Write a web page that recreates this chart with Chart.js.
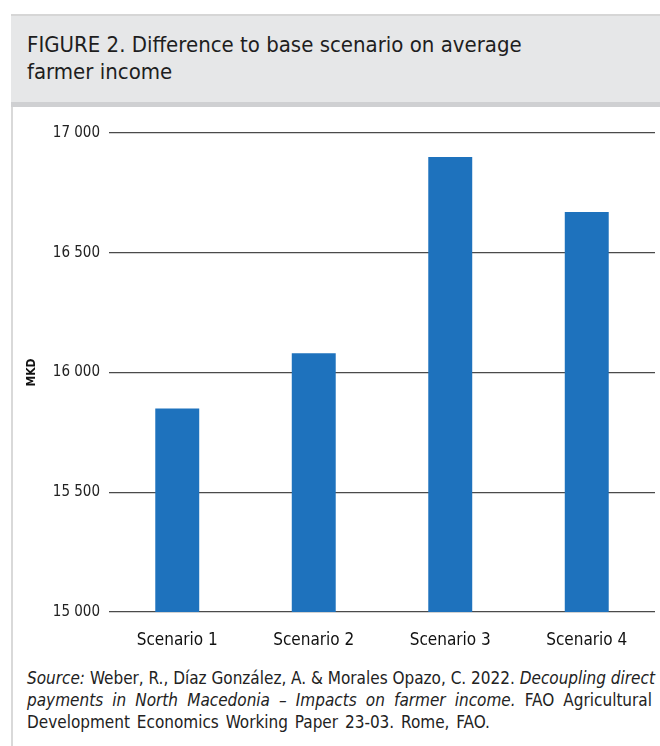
<!DOCTYPE html>
<html>
<head>
<meta charset="utf-8">
<script src="https://cdn.jsdelivr.net/npm/chart.js@4"></script>
<style>
  html, body { margin: 0; padding: 0; background: #fff; }
  body { width: 660px; height: 746px; position: relative; overflow: hidden; }
  .leftline { position: absolute; left: 11px; top: 14px; width: 2px; height: 732px; background: #d9d9d9; }
  .titlebox {
    position: absolute; left: 11px; top: 14px; width: 660px; height: 86px;
    background: #e6e7e8; border-top: 2px solid #d6d6d6; border-bottom: 5px solid #cfd0d2;
  }
  .title {
    position: absolute; left: 27px; top: 31px; margin: 0;
    font-family: "Liberation Sans Narrow", "DejaVu Sans Condensed", sans-serif;
    font-size: 22px; line-height: 27px; color: #1e1e1e; font-weight: normal;
  }
  .chartwrap { position: absolute; left: 14px; top: 106px; width: 646px; height: 545px; }
  .source {
    position: absolute; left: 27px; top: 667px; width: 625px;
    font-family: "Liberation Sans Narrow", "DejaVu Sans Condensed", sans-serif;
    font-size: 17px; line-height: 22px; color: #222;
  }
  .source div { text-align: justify; text-align-last: justify; white-space: nowrap; }
  .source div.last { text-align-last: left; word-spacing: 2px; }
</style>
</head>
<body>
<div class="leftline"></div>
<div class="titlebox"></div>
<h1 class="title">FIGURE 2. Difference to base scenario on average<br>farmer income</h1>
<div class="chartwrap"><canvas id="incomeChart" width="646" height="545"></canvas></div>
<div class="source">
  <div><i>Source:</i> Weber, R., Díaz González, A. &amp; Morales Opazo, C. 2022. <i>Decoupling direct</i></div>
  <div><i>payments in North Macedonia – Impacts on farmer income.</i> FAO Agricultural</div>
  <div class="last">Development Economics Working Paper 23-03. Rome, FAO.</div>
</div>
<script>
document.addEventListener("DOMContentLoaded", () => {
  const ctx = document.getElementById("incomeChart").getContext("2d");

  const scenarios = ["Scenario 1", "Scenario 2", "Scenario 3", "Scenario 4"];
  const farmerIncome = [15850, 16080, 16900, 16670]; // MKD
  const yTicks = [15000, 15500, 16000, 16500, 17000];

  const fontFamily = '"Liberation Sans Narrow", "DejaVu Sans Condensed", sans-serif';

  new Chart(ctx, {
    type: "bar",
    data: {
      labels: scenarios,
      datasets: [
        {
          label: "Average farmer income",
          data: farmerIncome,
          backgroundColor: "#1e72bd",
          borderWidth: 0,
          categoryPercentage: 1,
          barPercentage: 0.322,
        },
      ],
    },
    options: {
      responsive: false,
      animation: false,
      layout: { padding: { top: 27, right: 5, left: 0, bottom: 0 } },
      plugins: {
        legend: { display: false },
        tooltip: { enabled: false },
      },
      scales: {
        x: {
          grid: { display: false },
          border: { display: false },
          afterFit: (scale) => {
            scale.height = 39;
          },
          ticks: {
            color: "#111",
            padding: 10,
            font: { family: fontFamily, size: 17, weight: "500" },
          },
        },
        y: {
          min: yTicks[0],
          max: yTicks[yTicks.length - 1],
          afterBuildTicks: (scale) => {
            scale.ticks = yTicks.map((v) => ({ value: v }));
          },
          afterFit: (scale) => {
            scale.width = 95;
          },
          grid: { color: "#4a4a4a", lineWidth: 1.3, drawTicks: false },
          border: { display: false },
          title: {
            display: true,
            text: "MKD",
            color: "#111",
            padding: { top: 11, bottom: 0 },
            font: { family: fontFamily, size: 12, weight: "bold" },
          },
          ticks: {
            color: "#222",
            padding: 9,
            font: { family: fontFamily, size: 15 },
            callback: (value) => String(value).replace(/\B(?=(\d{3})+(?!\d))/g, " "),
          },
        },
      },
    },
  });
});
</script>
</body>
</html>
